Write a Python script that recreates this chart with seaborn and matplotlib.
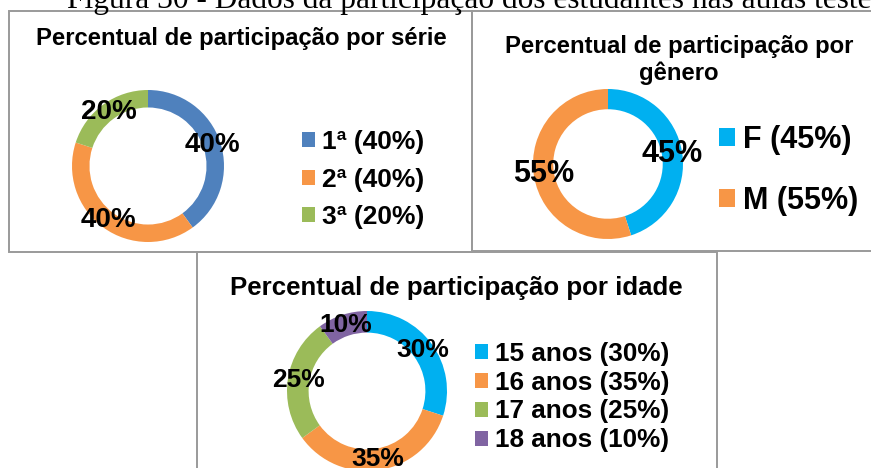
import matplotlib
matplotlib.use("Agg")
import matplotlib.pyplot as plt
from matplotlib.patches import Rectangle, Patch
import seaborn as sns

# ---------------- data ----------------
serie_title = "Percentual de participação por série"
serie_labels = ["1ª", "2ª", "3ª"]
serie_values = [40, 40, 20]

genero_title = ["Percentual de participação por", "gênero"]
genero_labels = ["F", "M"]
genero_values = [45, 55]

idade_title = "Percentual de participação por idade"
idade_labels = ["15 anos", "16 anos", "17 anos", "18 anos"]
idade_values = [30, 35, 25, 10]

caption = "Figura 30 - Dados da participação dos estudantes nas aulas testes"

serie_colors = ["#4F81BD", "#F79646", "#9BBB59"]
genero_colors = ["#00B0F0", "#F79646"]
idade_colors = ["#00B0F0", "#F79646", "#9BBB59", "#8064A2"]

# ---------------- style ----------------
sns.set_theme(style="white")
plt.rcParams["font.family"] = ["Liberation Sans", "DejaVu Sans"]
plt.rcParams["text.color"] = "black"

W, H = 871, 468
fig = plt.figure(figsize=(W / 100, H / 100), dpi=100)
fig.patch.set_facecolor("white")


def fx(x):
    return x / W


def fy(y):
    return 1 - y / H


# panel borders
border = dict(fill=False, edgecolor="#9a9a9a", linewidth=1.4, transform=fig.transFigure)
for (x0, y0, x1, y1) in [(9, 11, 472, 252), (472, 11, 900, 251), (197, 252, 717, 490)]:
    fig.patches.append(Rectangle((fx(x0), fy(y1)), fx(x1) - fx(x0), fy(y0) - fy(y1), **border))


def donut(cx, cy, R, values, colors, width, fs):
    ax = fig.add_axes([fx(cx - R), fy(cy + R), 2 * R / W, 2 * R / H])
    ax.pie(values, colors=colors, startangle=90, counterclock=False, radius=1,
           wedgeprops=dict(width=width, linewidth=0),
           autopct=lambda p: f"{p:.0f}%", pctdistance=1 - width / 2,
           textprops=dict(fontsize=fs, fontweight="bold", color="black"))
    ax.set_xlim(-1, 1)
    ax.set_ylim(-1, 1)
    ax.set_axis_off()
    return ax


def legend(labels, values, colors, x, y, fs, hl, ls):
    handles = [Patch(facecolor=c, edgecolor="none") for c in colors]
    texts = [f"{l} ({v}%)" for l, v in zip(labels, values)]
    fig.legend(handles, texts, loc="center left", bbox_to_anchor=(fx(x), fy(y)),
               frameon=False, borderpad=0, borderaxespad=0,
               handlelength=hl, handleheight=hl, handletextpad=0.27,
               labelspacing=ls, labelcolor="black", prop=dict(weight="bold", size=fs))


# caption (top, partially cut)
fig.text(fx(67), fy(8), caption, family=["Liberation Serif", "DejaVu Serif"],
         fontsize=22.6, va="baseline", ha="left", color="black")

# panel 1
fig.text(fx(241), fy(45), serie_title, ha="center", va="baseline", fontsize=17.2, weight="bold")
donut(148, 166, 76, serie_values, serie_colors, 0.23, 20)
legend(serie_labels, serie_values, serie_colors, 302, 179.5, 19, 0.5, 0.5)

# panel 2
fig.text(fx(679), fy(53), genero_title[0], ha="center", va="baseline", fontsize=17.2, weight="bold")
fig.text(fx(679), fy(80), genero_title[1], ha="center", va="baseline", fontsize=17.2, weight="bold")
donut(608, 164, 75, genero_values, genero_colors, 0.27, 22)
legend(genero_labels, genero_values, genero_colors, 719, 170.5, 22, 0.52, 1.0)

# panel 3
fig.text(fx(456), fy(295), idade_title, ha="center", va="baseline", fontsize=18.6, weight="bold")
donut(367, 391, 80, idade_values, idade_colors, 0.27, 19)
legend(idade_labels, idade_values, idade_colors, 475, 397, 18.8, 0.5, 0.19)

fig.savefig("out.png", dpi=100, facecolor="white")
